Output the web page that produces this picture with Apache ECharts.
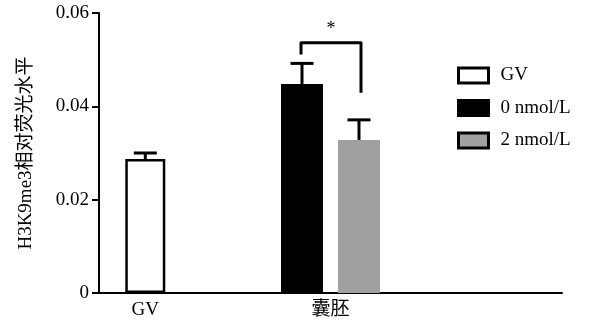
<!DOCTYPE html>
<html>
<head>
<meta charset="utf-8">
<script src="https://cdn.jsdelivr.net/npm/echarts@6/dist/echarts.min.js"></script>
<style>
  html, body { margin: 0; padding: 0; background: #fff; }
  #chart { width: 591px; height: 324px; }
</style>
</head>
<body>
<div id="chart"></div>
<script>
// ---- data ----
const categories = ['GV', '', '囊胚', '', ''];
const yTicks = [0, 0.02, 0.04, 0.06];
const seriesNames = ['GV', '0 nmol/L', '2 nmol/L'];
const seriesCategory = ['GV', '囊胚', '囊胚'];
const means = [0.0287, 0.0448, 0.0328];
const errors = [0.0013, 0.0044, 0.0043];
// significance bracket between 0 nmol/L and 2 nmol/L
const sigLabel = '*';
const sigTop = 0.0536;
const sigLeftEnd = 0.0511;
const sigRightEnd = 0.0429;

// ---- styles ----
const FONT = "'Liberation Serif', 'Noto Sans CJK SC', serif";
const FS = 19;
const BAR_W = 42;
const GV_BAR_W = 40;
const BAR_SPACE = 15;
const CAP_W = 23;
const seriesColors = ['#ffffff', '#000000', '#a0a0a0'];

function seriesData(i) {
  return categories.map(c => (c === seriesCategory[i] && c !== '') ? means[i] : '-');
}
const offsets = [0, -(BAR_W + BAR_SPACE) / 2, (BAR_W + BAR_SPACE) / 2];
const errData = means.map((m, i) => [categories.indexOf(seriesCategory[i]), m, m + errors[i], i]);

const chart = echarts.init(document.getElementById('chart'), null, { renderer: 'canvas' });
const option = {
  animation: false,
  backgroundColor: '#ffffff',
  grid: { left: 99, right: 29, top: 13, bottom: 31, containLabel: false },
  legend: {
    orient: 'vertical',
    left: 452,
    top: 61,
    itemWidth: 30,
    itemHeight: 15,
    itemGap: 13.5,
    icon: 'rect',
    textStyle: { fontFamily: FONT, fontSize: FS, color: '#000', padding: [0, 0, 0, 7] },
    data: seriesNames.map((n, i) => ({
      name: n,
      itemStyle: { color: seriesColors[i], borderColor: '#000', borderWidth: 3 }
    }))
  },
  xAxis: [{
    type: 'category',
    data: categories,
    axisLine: { lineStyle: { color: '#000', width: 2 } },
    axisTick: { show: false },
    axisLabel: { color: '#000', fontFamily: FONT, fontSize: FS, margin: 8 },
    splitLine: { show: false }
  }, {
    type: 'category',
    data: categories,
    show: false
  }],
  yAxis: {
    type: 'value',
    min: yTicks[0],
    max: yTicks[yTicks.length - 1],
    interval: yTicks[1] - yTicks[0],
    name: 'H3K9me3相对荧光水平',
    nameLocation: 'middle',
    nameGap: 63,
    nameTextStyle: { color: '#000', fontFamily: FONT, fontSize: FS },
    axisLine: { show: true, lineStyle: { color: '#000', width: 2 } },
    axisTick: { show: true, length: 7, lineStyle: { color: '#000', width: 2 } },
    axisLabel: {
      color: '#000', fontFamily: FONT, fontSize: FS, margin: 10,
      formatter: v => (v === 0 ? '0' : v.toFixed(2))
    },
    splitLine: { show: false }
  },
  series: [
    {
      name: seriesNames[0], type: 'bar', xAxisIndex: 1,
      data: seriesData(0), barWidth: GV_BAR_W,
      itemStyle: { color: seriesColors[0], borderColor: '#000', borderWidth: 2.5 }
    },
    {
      name: seriesNames[1], type: 'bar', xAxisIndex: 0,
      data: seriesData(1), barWidth: BAR_W, barGap: (BAR_SPACE / BAR_W * 100).toFixed(1) + '%',
      itemStyle: { color: seriesColors[1] }
    },
    {
      name: seriesNames[2], type: 'bar', xAxisIndex: 0,
      data: seriesData(2), barWidth: BAR_W,
      itemStyle: { color: seriesColors[2] }
    },
    {
      name: 'err', type: 'custom', xAxisIndex: 0, z: 5,
      data: errData,
      renderItem: function (params, api) {
        const idx = api.value(3);
        const base = api.coord([api.value(0), api.value(1)]);
        const top = api.coord([api.value(0), api.value(2)]);
        const x = base[0] + offsets[idx];
        const style = { stroke: '#000', lineWidth: 3 };
        return {
          type: 'group',
          children: [
            { type: 'line', shape: { x1: x, y1: base[1], x2: x, y2: top[1] }, style: style },
            { type: 'line', shape: { x1: x - CAP_W / 2, y1: top[1], x2: x + CAP_W / 2, y2: top[1] }, style: style }
          ]
        };
      }
    },
    {
      name: 'sig', type: 'custom', xAxisIndex: 0, z: 5,
      data: [[categories.indexOf('囊胚'), sigTop, sigLeftEnd, sigRightEnd]],
      renderItem: function (params, api) {
        const c = api.coord([api.value(0), api.value(1)]);
        const yl = api.coord([api.value(0), api.value(2)])[1];
        const yr = api.coord([api.value(0), api.value(3)])[1];
        const xl = c[0] + offsets[1] - 1;
        const xr = c[0] + offsets[2] + 2;
        return {
          type: 'group',
          children: [
            {
              type: 'polyline',
              shape: { points: [[xl, yl], [xl, c[1]], [xr, c[1]], [xr, yr]] },
              style: { stroke: '#000', lineWidth: 3, fill: null, lineJoin: 'round' }
            },
            {
              type: 'text',
              style: {
                text: sigLabel, x: (xl + xr) / 2, y: c[1] - 23,
                fill: '#000', font: '18px ' + FONT, textAlign: 'center', textVerticalAlign: 'top'
              }
            }
          ]
        };
      }
    }
  ]
};
chart.setOption(option);
</script>
</body>
</html>
